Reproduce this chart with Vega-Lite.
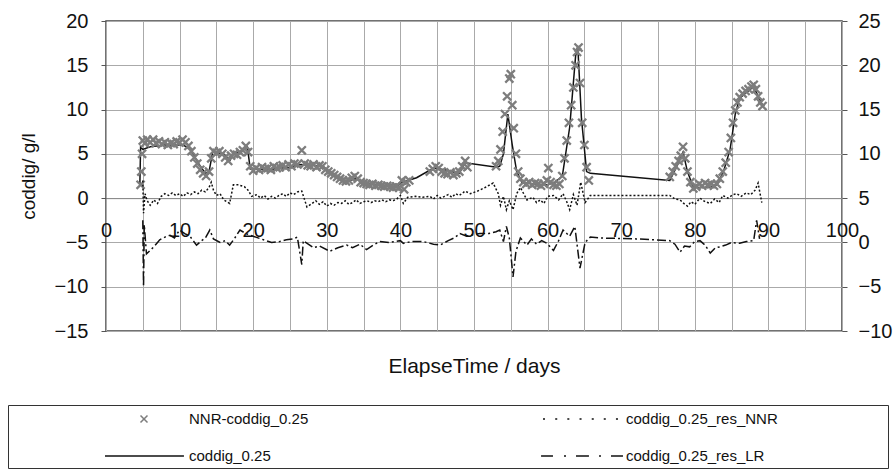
{
  "$schema": "https://vega.github.io/schema/vega-lite/v6.json",
  "width": 736,
  "height": 310,
  "autosize": {"type": "none"},
  "padding": {"left": 106, "top": 21, "right": 51, "bottom": 142},
  "background": "white",
  "config": {
    "font": "Liberation Sans",
    "view": {"stroke": "#444", "strokeWidth": 1.5},
    "axis": {"labelFont": "Liberation Sans", "labelFontSize": 20, "labelColor": "#111", "titleFont": "Liberation Sans", "titleFontWeight": "normal", "titleColor": "#111", "gridColor": "#aaa", "gridWidth": 1, "tickColor": "#555"}
  },
  "data": {"values": [
    {"s":"NNR","d":4.7,"v":1.5},{"s":"NNR","d":4.8,"v":3.0},{"s":"NNR","d":4.9,"v":5.0},{"s":"NNR","d":5.0,"v":6.5},{"s":"NNR","d":5.3,"v":6.2},{"s":"NNR","d":5.6,"v":6.6},{"s":"NNR","d":6.0,"v":6.3},{"s":"NNR","d":6.4,"v":6.6},{"s":"NNR","d":6.8,"v":6.2},{"s":"NNR","d":7.2,"v":6.4},{"s":"NNR","d":7.6,"v":6.1},{"s":"NNR","d":8.0,"v":6.3},{"s":"NNR","d":8.4,"v":6.0},{"s":"NNR","d":8.8,"v":6.2},{"s":"NNR","d":9.2,"v":6.1},{"s":"NNR","d":9.6,"v":6.4},{"s":"NNR","d":10.0,"v":6.3},{"s":"NNR","d":10.4,"v":6.6},{"s":"NNR","d":10.8,"v":6.3},{"s":"NNR","d":11.2,"v":5.9},{"s":"NNR","d":11.6,"v":5.3},{"s":"NNR","d":12.0,"v":4.6},{"s":"NNR","d":12.4,"v":3.9},{"s":"NNR","d":12.8,"v":3.2},{"s":"NNR","d":13.2,"v":2.8},{"s":"NNR","d":13.6,"v":2.5},{"s":"NNR","d":14.0,"v":3.0},{"s":"NNR","d":14.3,"v":4.5},{"s":"NNR","d":14.6,"v":5.3},{"s":"NNR","d":15.0,"v":5.1},{"s":"NNR","d":15.4,"v":5.3},{"s":"NNR","d":15.8,"v":5.0},{"s":"NNR","d":16.2,"v":4.6},{"s":"NNR","d":16.6,"v":4.2},{"s":"NNR","d":17.0,"v":4.8},{"s":"NNR","d":17.4,"v":5.0},{"s":"NNR","d":17.8,"v":4.9},{"s":"NNR","d":18.2,"v":5.2},{"s":"NNR","d":18.6,"v":5.4},{"s":"NNR","d":19.0,"v":5.9},{"s":"NNR","d":19.3,"v":5.2},{"s":"NNR","d":19.6,"v":3.6},{"s":"NNR","d":20.0,"v":3.1},{"s":"NNR","d":20.4,"v":3.4},{"s":"NNR","d":20.8,"v":3.2},{"s":"NNR","d":21.2,"v":3.5},{"s":"NNR","d":21.6,"v":3.3},{"s":"NNR","d":22.0,"v":3.4},{"s":"NNR","d":22.4,"v":3.2},{"s":"NNR","d":22.8,"v":3.6},{"s":"NNR","d":23.2,"v":3.4},{"s":"NNR","d":23.6,"v":3.5},{"s":"NNR","d":24.0,"v":3.7},{"s":"NNR","d":24.4,"v":3.5},{"s":"NNR","d":24.8,"v":3.8},{"s":"NNR","d":25.2,"v":3.6},{"s":"NNR","d":25.6,"v":3.9},{"s":"NNR","d":26.0,"v":3.8},{"s":"NNR","d":26.6,"v":5.4},{"s":"NNR","d":27.0,"v":3.9},{"s":"NNR","d":27.4,"v":3.7},{"s":"NNR","d":27.8,"v":3.6},{"s":"NNR","d":28.2,"v":3.8},{"s":"NNR","d":28.6,"v":3.5},{"s":"NNR","d":29.0,"v":3.7},{"s":"NNR","d":29.4,"v":3.6},{"s":"NNR","d":29.8,"v":3.2},{"s":"NNR","d":30.2,"v":3.0},{"s":"NNR","d":30.6,"v":2.8},{"s":"NNR","d":31.0,"v":2.6},{"s":"NNR","d":31.4,"v":2.4},{"s":"NNR","d":31.8,"v":2.2},{"s":"NNR","d":32.2,"v":2.0},{"s":"NNR","d":32.6,"v":1.9},{"s":"NNR","d":33.0,"v":2.0},{"s":"NNR","d":33.4,"v":2.3},{"s":"NNR","d":33.8,"v":2.5},{"s":"NNR","d":34.2,"v":2.2},{"s":"NNR","d":34.6,"v":1.8},{"s":"NNR","d":35.0,"v":1.7},{"s":"NNR","d":35.4,"v":1.6},{"s":"NNR","d":35.8,"v":1.5},{"s":"NNR","d":36.2,"v":1.6},{"s":"NNR","d":36.6,"v":1.4},{"s":"NNR","d":37.0,"v":1.5},{"s":"NNR","d":37.4,"v":1.4},{"s":"NNR","d":37.8,"v":1.3},{"s":"NNR","d":38.2,"v":1.4},{"s":"NNR","d":38.6,"v":1.3},{"s":"NNR","d":39.0,"v":1.2},{"s":"NNR","d":39.4,"v":1.3},{"s":"NNR","d":39.8,"v":1.2},{"s":"NNR","d":40.2,"v":2.0},{"s":"NNR","d":40.5,"v":1.0},{"s":"NNR","d":40.8,"v":1.8},{"s":"NNR","d":41.2,"v":2.0},
    {"s":"NNR","d":44.0,"v":3.0},{"s":"NNR","d":44.4,"v":3.3},{"s":"NNR","d":44.8,"v":3.6},{"s":"NNR","d":45.2,"v":3.4},{"s":"NNR","d":45.6,"v":3.0},{"s":"NNR","d":46.0,"v":2.8},{"s":"NNR","d":46.4,"v":2.7},{"s":"NNR","d":46.8,"v":2.9},{"s":"NNR","d":47.2,"v":2.6},{"s":"NNR","d":47.6,"v":2.8},{"s":"NNR","d":48.0,"v":3.0},{"s":"NNR","d":48.4,"v":3.6},{"s":"NNR","d":48.8,"v":4.2},{"s":"NNR","d":49.1,"v":3.5},
    {"s":"NNR","d":53.0,"v":3.6},{"s":"NNR","d":53.3,"v":4.2},{"s":"NNR","d":53.6,"v":5.5},{"s":"NNR","d":53.9,"v":7.5},{"s":"NNR","d":54.2,"v":9.5},{"s":"NNR","d":54.5,"v":11.5},{"s":"NNR","d":54.8,"v":13.5},{"s":"NNR","d":55.0,"v":14.0},{"s":"NNR","d":55.2,"v":10.5},{"s":"NNR","d":55.4,"v":7.9},{"s":"NNR","d":55.7,"v":5.0},{"s":"NNR","d":56.0,"v":3.0},{"s":"NNR","d":56.3,"v":2.2},{"s":"NNR","d":56.7,"v":1.8},{"s":"NNR","d":57.1,"v":1.6},{"s":"NNR","d":57.5,"v":1.8},{"s":"NNR","d":57.9,"v":1.5},{"s":"NNR","d":58.3,"v":1.7},{"s":"NNR","d":58.7,"v":1.6},{"s":"NNR","d":59.1,"v":1.4},{"s":"NNR","d":59.5,"v":1.6},{"s":"NNR","d":59.9,"v":2.0},{"s":"NNR","d":60.1,"v":3.4},{"s":"NNR","d":60.4,"v":1.8},{"s":"NNR","d":60.8,"v":1.5},{"s":"NNR","d":61.2,"v":1.4},{"s":"NNR","d":61.6,"v":1.6},{"s":"NNR","d":62.0,"v":2.5},{"s":"NNR","d":62.3,"v":4.5},{"s":"NNR","d":62.6,"v":6.5},{"s":"NNR","d":62.9,"v":8.5},{"s":"NNR","d":63.2,"v":10.5},{"s":"NNR","d":63.5,"v":12.5},{"s":"NNR","d":63.8,"v":15.0},{"s":"NNR","d":64.0,"v":16.5},{"s":"NNR","d":64.2,"v":17.0},{"s":"NNR","d":64.4,"v":13.0},{"s":"NNR","d":64.7,"v":8.5},{"s":"NNR","d":65.0,"v":6.0},{"s":"NNR","d":65.3,"v":3.5},{"s":"NNR","d":65.6,"v":2.0},
    {"s":"NNR","d":76.6,"v":2.4},{"s":"NNR","d":77.0,"v":3.0},{"s":"NNR","d":77.4,"v":3.6},{"s":"NNR","d":77.8,"v":4.2},{"s":"NNR","d":78.1,"v":4.8},{"s":"NNR","d":78.4,"v":5.8},{"s":"NNR","d":78.7,"v":4.5},{"s":"NNR","d":79.0,"v":3.0},{"s":"NNR","d":79.4,"v":1.8},{"s":"NNR","d":79.8,"v":1.1},{"s":"NNR","d":80.2,"v":1.3},{"s":"NNR","d":80.6,"v":1.6},{"s":"NNR","d":81.0,"v":1.4},{"s":"NNR","d":81.4,"v":1.7},{"s":"NNR","d":81.8,"v":1.5},{"s":"NNR","d":82.2,"v":1.6},{"s":"NNR","d":82.6,"v":1.4},{"s":"NNR","d":83.0,"v":1.6},{"s":"NNR","d":83.4,"v":2.2},{"s":"NNR","d":83.8,"v":3.0},{"s":"NNR","d":84.2,"v":4.0},{"s":"NNR","d":84.6,"v":5.2},{"s":"NNR","d":84.9,"v":6.8},{"s":"NNR","d":85.2,"v":8.5},{"s":"NNR","d":85.5,"v":9.9},{"s":"NNR","d":85.8,"v":10.8},{"s":"NNR","d":86.1,"v":11.4},{"s":"NNR","d":86.5,"v":11.8},{"s":"NNR","d":86.9,"v":12.1},{"s":"NNR","d":87.3,"v":12.3},{"s":"NNR","d":87.7,"v":12.6},{"s":"NNR","d":88.0,"v":12.8},{"s":"NNR","d":88.3,"v":12.3},{"s":"NNR","d":88.6,"v":11.5},{"s":"NNR","d":88.9,"v":10.8},{"s":"NNR","d":89.2,"v":10.4},
    {"s":"COD","d":4.6,"v":1.5},{"s":"COD","d":4.7,"v":5.8},{"s":"COD","d":5.0,"v":5.5},{"s":"COD","d":6.0,"v":5.8},{"s":"COD","d":8.0,"v":6.0},{"s":"COD","d":10.5,"v":6.0},{"s":"COD","d":11.5,"v":5.5},{"s":"COD","d":12.5,"v":4.0},{"s":"COD","d":13.5,"v":2.8},{"s":"COD","d":14.0,"v":3.0},{"s":"COD","d":14.5,"v":5.2},{"s":"COD","d":16.0,"v":5.0},{"s":"COD","d":16.8,"v":4.2},{"s":"COD","d":17.3,"v":5.0},{"s":"COD","d":18.5,"v":5.3},{"s":"COD","d":19.2,"v":5.8},{"s":"COD","d":19.6,"v":3.3},{"s":"COD","d":22.0,"v":3.2},{"s":"COD","d":25.0,"v":3.5},{"s":"COD","d":26.5,"v":3.8},{"s":"COD","d":29.5,"v":3.6},{"s":"COD","d":30.5,"v":2.8},{"s":"COD","d":32.7,"v":1.9},{"s":"COD","d":34.0,"v":2.2},{"s":"COD","d":35.0,"v":1.7},{"s":"COD","d":37.0,"v":1.5},{"s":"COD","d":39.5,"v":1.3},{"s":"COD","d":40.2,"v":1.8},{"s":"COD","d":41.0,"v":2.0},{"s":"COD","d":42.2,"v":2.3},{"s":"COD","d":44.5,"v":3.4},{"s":"COD","d":46.0,"v":3.2},{"s":"COD","d":48.0,"v":2.8},{"s":"COD","d":48.8,"v":4.0},{"s":"COD","d":53.1,"v":3.5},{"s":"COD","d":53.5,"v":3.6},{"s":"COD","d":54.0,"v":5.0},{"s":"COD","d":54.6,"v":9.5},{"s":"COD","d":55.2,"v":6.0},{"s":"COD","d":55.8,"v":3.0},{"s":"COD","d":56.5,"v":1.8},{"s":"COD","d":58.0,"v":1.6},{"s":"COD","d":60.0,"v":1.5},{"s":"COD","d":61.0,"v":1.8},{"s":"COD","d":62.0,"v":2.5},{"s":"COD","d":63.0,"v":8.0},{"s":"COD","d":63.8,"v":16.0},{"s":"COD","d":64.1,"v":17.2},{"s":"COD","d":64.6,"v":9.0},{"s":"COD","d":65.3,"v":3.0},{"s":"COD","d":65.8,"v":2.8},{"s":"COD","d":76.6,"v":2.0},{"s":"COD","d":77.5,"v":3.5},{"s":"COD","d":78.4,"v":5.2},{"s":"COD","d":79.0,"v":3.0},{"s":"COD","d":79.8,"v":1.2},{"s":"COD","d":82.0,"v":1.2},{"s":"COD","d":83.0,"v":1.5},{"s":"COD","d":83.9,"v":3.0},{"s":"COD","d":84.8,"v":5.5},{"s":"COD","d":85.5,"v":9.5},{"s":"COD","d":86.1,"v":11.3},{"s":"COD","d":87.1,"v":12.0},{"s":"COD","d":88.0,"v":12.6},{"s":"COD","d":88.6,"v":11.5},{"s":"COD","d":89.2,"v":10.5},
    {"s":"RNNR","d":5.0,"v":2.0},{"s":"RNNR","d":5.1,"v":-1.7},{"s":"RNNR","d":5.3,"v":0.5},{"s":"RNNR","d":5.6,"v":-0.3},{"s":"RNNR","d":6.0,"v":-0.8},{"s":"RNNR","d":6.5,"v":-0.2},{"s":"RNNR","d":7.0,"v":-0.6},{"s":"RNNR","d":7.5,"v":0.2},{"s":"RNNR","d":8.0,"v":0.5},{"s":"RNNR","d":8.5,"v":0.3},{"s":"RNNR","d":9.0,"v":0.6},{"s":"RNNR","d":9.5,"v":0.3},{"s":"RNNR","d":10.0,"v":0.5},{"s":"RNNR","d":10.5,"v":0.2},{"s":"RNNR","d":11.0,"v":0.6},{"s":"RNNR","d":11.5,"v":0.4},{"s":"RNNR","d":12.0,"v":0.7},{"s":"RNNR","d":12.5,"v":0.5},{"s":"RNNR","d":13.0,"v":0.9},{"s":"RNNR","d":13.5,"v":0.7},{"s":"RNNR","d":14.0,"v":1.2},{"s":"RNNR","d":14.3,"v":1.8},{"s":"RNNR","d":14.6,"v":0.9},{"s":"RNNR","d":15.0,"v":0.3},{"s":"RNNR","d":15.5,"v":0.5},{"s":"RNNR","d":16.0,"v":-0.2},{"s":"RNNR","d":16.8,"v":-0.6},{"s":"RNNR","d":17.3,"v":1.5},{"s":"RNNR","d":18.0,"v":1.5},{"s":"RNNR","d":18.8,"v":1.3},{"s":"RNNR","d":19.3,"v":0.9},{"s":"RNNR","d":19.8,"v":0.2},{"s":"RNNR","d":20.5,"v":0.4},{"s":"RNNR","d":21.0,"v":0.0},{"s":"RNNR","d":21.5,"v":0.3},{"s":"RNNR","d":22.0,"v":-0.1},{"s":"RNNR","d":22.5,"v":0.2},{"s":"RNNR","d":23.0,"v":0.0},{"s":"RNNR","d":23.5,"v":0.3},{"s":"RNNR","d":24.0,"v":0.5},{"s":"RNNR","d":24.5,"v":0.2},{"s":"RNNR","d":25.0,"v":0.6},{"s":"RNNR","d":25.5,"v":0.4},{"s":"RNNR","d":26.0,"v":0.7},{"s":"RNNR","d":26.6,"v":0.8},{"s":"RNNR","d":27.3,"v":-1.0},{"s":"RNNR","d":28.0,"v":-0.6},{"s":"RNNR","d":28.5,"v":-0.3},{"s":"RNNR","d":29.0,"v":-0.7},{"s":"RNNR","d":29.5,"v":-0.4},{"s":"RNNR","d":30.0,"v":-0.9},{"s":"RNNR","d":30.5,"v":-0.6},{"s":"RNNR","d":31.0,"v":-0.8},{"s":"RNNR","d":31.5,"v":-0.5},{"s":"RNNR","d":32.0,"v":-0.6},{"s":"RNNR","d":32.5,"v":-0.3},{"s":"RNNR","d":33.0,"v":-0.7},{"s":"RNNR","d":33.5,"v":-0.5},{"s":"RNNR","d":34.0,"v":-0.2},{"s":"RNNR","d":34.5,"v":-0.6},{"s":"RNNR","d":35.0,"v":-0.4},{"s":"RNNR","d":35.5,"v":-0.3},{"s":"RNNR","d":36.0,"v":-0.5},{"s":"RNNR","d":36.5,"v":-0.3},{"s":"RNNR","d":37.0,"v":-0.4},{"s":"RNNR","d":37.5,"v":-0.2},{"s":"RNNR","d":38.0,"v":-0.4},{"s":"RNNR","d":38.5,"v":-0.2},{"s":"RNNR","d":39.0,"v":-0.3},{"s":"RNNR","d":39.5,"v":-0.1},{"s":"RNNR","d":40.0,"v":0.3},{"s":"RNNR","d":40.4,"v":-0.6},{"s":"RNNR","d":41.0,"v":0.1},{"s":"RNNR","d":42.0,"v":0.2},{"s":"RNNR","d":43.0,"v":0.1},{"s":"RNNR","d":44.0,"v":0.2},{"s":"RNNR","d":44.5,"v":-0.1},{"s":"RNNR","d":45.0,"v":0.3},{"s":"RNNR","d":45.5,"v":0.0},{"s":"RNNR","d":46.0,"v":0.2},{"s":"RNNR","d":46.5,"v":0.4},{"s":"RNNR","d":47.0,"v":0.1},{"s":"RNNR","d":47.5,"v":0.5},{"s":"RNNR","d":48.0,"v":0.3},{"s":"RNNR","d":48.8,"v":0.8},{"s":"RNNR","d":49.5,"v":0.5},{"s":"RNNR","d":50.5,"v":0.8},{"s":"RNNR","d":51.5,"v":1.2},{"s":"RNNR","d":52.6,"v":1.7},{"s":"RNNR","d":53.3,"v":0.5},{"s":"RNNR","d":53.6,"v":-0.8},{"s":"RNNR","d":54.0,"v":0.2},{"s":"RNNR","d":54.4,"v":-1.3},{"s":"RNNR","d":54.8,"v":-0.3},{"s":"RNNR","d":55.3,"v":-1.3},{"s":"RNNR","d":55.8,"v":0.5},{"s":"RNNR","d":56.3,"v":1.2},{"s":"RNNR","d":57.2,"v":-0.2},{"s":"RNNR","d":58.0,"v":0.1},{"s":"RNNR","d":58.5,"v":-0.5},{"s":"RNNR","d":59.0,"v":-0.2},{"s":"RNNR","d":59.5,"v":-0.6},{"s":"RNNR","d":60.0,"v":0.2},{"s":"RNNR","d":60.8,"v":0.3},{"s":"RNNR","d":61.5,"v":-0.2},{"s":"RNNR","d":62.1,"v":0.5},{"s":"RNNR","d":62.6,"v":-0.4},{"s":"RNNR","d":63.0,"v":-1.3},{"s":"RNNR","d":63.5,"v":0.4},{"s":"RNNR","d":64.0,"v":-0.8},{"s":"RNNR","d":64.5,"v":1.8},{"s":"RNNR","d":65.1,"v":-0.5},{"s":"RNNR","d":65.8,"v":0.3},{"s":"RNNR","d":70.0,"v":0.3},{"s":"RNNR","d":76.6,"v":0.3},{"s":"RNNR","d":77.3,"v":-0.1},{"s":"RNNR","d":78.0,"v":-0.2},{"s":"RNNR","d":78.5,"v":-0.6},{"s":"RNNR","d":79.0,"v":-0.9},{"s":"RNNR","d":79.5,"v":-0.4},{"s":"RNNR","d":80.0,"v":-0.7},{"s":"RNNR","d":80.7,"v":0.0},{"s":"RNNR","d":81.4,"v":-0.4},{"s":"RNNR","d":82.1,"v":-0.6},{"s":"RNNR","d":82.7,"v":-0.1},{"s":"RNNR","d":83.3,"v":-0.5},{"s":"RNNR","d":83.8,"v":0.3},{"s":"RNNR","d":84.5,"v":0.0},{"s":"RNNR","d":85.2,"v":0.4},{"s":"RNNR","d":85.7,"v":0.5},{"s":"RNNR","d":86.3,"v":0.2},{"s":"RNNR","d":87.0,"v":0.6},{"s":"RNNR","d":87.6,"v":0.4},{"s":"RNNR","d":88.2,"v":0.9},{"s":"RNNR","d":88.6,"v":1.7},{"s":"RNNR","d":89.1,"v":-0.5},
    {"s":"RLR","d":5.0,"v":2.5},{"s":"RLR","d":5.1,"v":-5.0},{"s":"RLR","d":5.2,"v":2.0},{"s":"RLR","d":5.5,"v":-1.3},{"s":"RLR","d":6.0,"v":-0.9},{"s":"RLR","d":6.5,"v":-0.5},{"s":"RLR","d":7.0,"v":0.0},{"s":"RLR","d":7.3,"v":0.3},{"s":"RLR","d":8.0,"v":0.6},{"s":"RLR","d":8.7,"v":0.8},{"s":"RLR","d":9.3,"v":0.5},{"s":"RLR","d":10.0,"v":1.4},{"s":"RLR","d":10.7,"v":1.0},{"s":"RLR","d":11.4,"v":0.7},{"s":"RLR","d":12.3,"v":-0.3},{"s":"RLR","d":13.0,"v":0.2},{"s":"RLR","d":13.5,"v":0.5},{"s":"RLR","d":14.1,"v":1.4},{"s":"RLR","d":14.6,"v":0.4},{"s":"RLR","d":15.5,"v":0.0},{"s":"RLR","d":16.2,"v":0.2},{"s":"RLR","d":16.8,"v":-0.3},{"s":"RLR","d":17.5,"v":0.5},{"s":"RLR","d":18.2,"v":1.4},{"s":"RLR","d":19.0,"v":1.0},{"s":"RLR","d":20.0,"v":0.7},{"s":"RLR","d":21.4,"v":0.3},{"s":"RLR","d":22.5,"v":0.0},{"s":"RLR","d":23.6,"v":0.1},{"s":"RLR","d":24.5,"v":0.3},{"s":"RLR","d":25.4,"v":0.4},{"s":"RLR","d":26.0,"v":0.6},{"s":"RLR","d":26.6,"v":-2.5},{"s":"RLR","d":26.8,"v":0.2},{"s":"RLR","d":28.2,"v":-0.6},{"s":"RLR","d":29.0,"v":-0.4},{"s":"RLR","d":30.4,"v":-1.0},{"s":"RLR","d":31.5,"v":-0.6},{"s":"RLR","d":32.7,"v":-0.3},{"s":"RLR","d":33.5,"v":-0.6},{"s":"RLR","d":34.5,"v":-0.2},{"s":"RLR","d":35.4,"v":-0.8},{"s":"RLR","d":36.3,"v":-0.3},{"s":"RLR","d":37.2,"v":0.1},{"s":"RLR","d":38.5,"v":0.0},{"s":"RLR","d":40.0,"v":0.2},{"s":"RLR","d":40.4,"v":-0.1},{"s":"RLR","d":41.5,"v":0.1},{"s":"RLR","d":43.1,"v":0.1},{"s":"RLR","d":44.5,"v":-0.2},{"s":"RLR","d":45.4,"v":-0.3},{"s":"RLR","d":46.5,"v":0.2},{"s":"RLR","d":47.3,"v":0.5},{"s":"RLR","d":48.1,"v":1.0},{"s":"RLR","d":49.0,"v":0.7},{"s":"RLR","d":50.0,"v":0.9},{"s":"RLR","d":50.8,"v":1.0},{"s":"RLR","d":52.0,"v":1.0},{"s":"RLR","d":53.0,"v":1.2},{"s":"RLR","d":53.5,"v":1.4},{"s":"RLR","d":54.0,"v":0.1},{"s":"RLR","d":54.4,"v":1.8},{"s":"RLR","d":54.8,"v":0.5},{"s":"RLR","d":55.3,"v":-3.9},{"s":"RLR","d":55.7,"v":-1.0},{"s":"RLR","d":56.3,"v":0.5},{"s":"RLR","d":57.2,"v":-0.3},{"s":"RLR","d":57.8,"v":0.4},{"s":"RLR","d":58.5,"v":-0.2},{"s":"RLR","d":59.2,"v":0.2},{"s":"RLR","d":59.9,"v":-0.1},{"s":"RLR","d":60.8,"v":-0.9},{"s":"RLR","d":61.5,"v":0.2},{"s":"RLR","d":62.1,"v":1.4},{"s":"RLR","d":63.0,"v":0.7},{"s":"RLR","d":63.7,"v":1.8},{"s":"RLR","d":64.4,"v":-2.9},{"s":"RLR","d":65.1,"v":0.0},{"s":"RLR","d":65.8,"v":0.6},{"s":"RLR","d":67.1,"v":0.5},{"s":"RLR","d":72.0,"v":0.4},{"s":"RLR","d":76.6,"v":0.2},{"s":"RLR","d":77.3,"v":-0.2},{"s":"RLR","d":78.0,"v":-1.1},{"s":"RLR","d":78.6,"v":-0.4},{"s":"RLR","d":79.3,"v":-0.5},{"s":"RLR","d":80.0,"v":0.1},{"s":"RLR","d":80.7,"v":0.2},{"s":"RLR","d":81.4,"v":-0.3},{"s":"RLR","d":82.1,"v":-1.2},{"s":"RLR","d":82.8,"v":-0.6},{"s":"RLR","d":83.4,"v":-0.5},{"s":"RLR","d":84.2,"v":-0.3},{"s":"RLR","d":85.0,"v":0.0},{"s":"RLR","d":86.1,"v":-0.1},{"s":"RLR","d":87.0,"v":0.1},{"s":"RLR","d":88.0,"v":0.2},{"s":"RLR","d":88.4,"v":2.5},{"s":"RLR","d":88.8,"v":0.4}
  ]},
  "layer": [
    {
      "layer": [
        {
          "transform": [{"filter": "datum.s === 'COD'"}],
          "mark": {"type": "line", "color": "#111", "strokeWidth": 1.5},
          "encoding": {
            "x": {"field": "d", "type": "quantitative", "scale": {"domain": [0, 100], "nice": false, "zero": false},
              "axis": {"orient": "bottom", "offset": -132.86, "tickCount": 20, "labelExpr": "datum.value % 10 == 0 ? format(datum.value, 'd') : ''", "grid": true, "ticks": false, "domain": true, "domainColor": "#888", "domainWidth": 1, "labelPadding": 22, "labelAlign": "center", "labelBaseline": "top", "labelFlush": false, "labelOverlap": false, "title": "ElapseTime / days", "titleFontSize": 21, "titlePadding": 115}},
            "y": {"field": "v", "type": "quantitative", "scale": {"domain": [-15, 20], "nice": false, "zero": false},
              "axis": {"orient": "left", "values": [-15,-10,-5,0,5,10,15,20], "grid": true, "domain": false, "ticks": true, "tickSize": 5, "labelPadding": 13, "labelFlush": false, "title": "coddig/ g/l", "titleFontSize": 19, "titlePadding": 16}}
          }
        },
        {
          "transform": [{"filter": "datum.s === 'NNR'"}],
          "mark": {"type": "point", "filled": false, "size": 460, "strokeWidth": 2.3, "opacity": 1},
          "encoding": {
            "x": {"field": "d", "type": "quantitative"},
            "y": {"field": "v", "type": "quantitative", "scale": {"domain": [-15, 20], "nice": false, "zero": false}},
            "shape": {"field": "s", "type": "nominal",
              "scale": {"domain": ["NNR", "COD", "RNNR", "RLR"], "range": [
                "M-14.27,-1.08M-0.378,-0.378L0.378,0.378M-0.378,0.378L0.378,-0.378",
                "M-14.27,-1.08M-4.22,0L4.32,0",
                "M-14.27,-1.08M32.4,0M-4.11,0L-3.89,0M-2.79,0L-2.57,0M-1.48,0L-1.26,0M-0.16,0L0.06,0M1.16,0L1.38,0M2.46,0L2.68,0M3.78,0L4.0,0",
                "M-14.27,-1.08M32.4,0M-4.32,0L-3.03,0M-1.84,0L-1.62,0M-0.54,0L0.86,0M1.95,0L2.16,0M3.24,0L4.54,0"
              ]},
              "legend": {"title": null, "orient": "none", "legendX": -98, "legendY": 384, "columns": 2, "gridAlign": "each", "columnPadding": 137, "rowPadding": 16, "padding": 4, "strokeColor": "#333", "symbolSize": 342, "symbolStrokeWidth": 1.5, "symbolOffset": 122, "labelFont": "Liberation Sans", "labelFontSize": 15, "labelColor": "#111", "labelOffset": 35, "labelLimit": 300,
                "labelExpr": "datum.label === 'NNR' ? 'NNR-coddig_0.25' : datum.label === 'RNNR' ? 'coddig_0.25_res_NNR' : datum.label === 'COD' ? 'coddig_0.25' : 'coddig_0.25_res_LR'"}},
            "color": {"field": "s", "type": "nominal",
              "scale": {"domain": ["NNR", "COD", "RNNR", "RLR"], "range": ["#7d7d7d", "#111111", "#111111", "#111111"]},
              "legend": {"title": null, "orient": "none", "legendX": -98, "legendY": 384, "columns": 2, "gridAlign": "each", "columnPadding": 137, "rowPadding": 16, "padding": 4, "strokeColor": "#333", "symbolSize": 342, "symbolStrokeWidth": 1.5, "symbolOffset": 122, "labelFont": "Liberation Sans", "labelFontSize": 15, "labelColor": "#111", "labelOffset": 35, "labelLimit": 300,
                "labelExpr": "datum.label === 'NNR' ? 'NNR-coddig_0.25' : datum.label === 'RNNR' ? 'coddig_0.25_res_NNR' : datum.label === 'COD' ? 'coddig_0.25' : 'coddig_0.25_res_LR'"}}
          }
        },
        {
          "transform": [{"filter": "datum.s === 'RNNR'"}],
          "mark": {"type": "line", "color": "#111", "strokeWidth": 1.5, "strokeDash": [2, 2]},
          "encoding": {
            "x": {"field": "d", "type": "quantitative"},
            "y": {"field": "v", "type": "quantitative", "scale": {"domain": [-15, 20], "nice": false, "zero": false}}
          }
        }
      ]
    },
    {
      "transform": [{"filter": "datum.s === 'RLR'"}],
      "mark": {"type": "line", "color": "#111", "strokeWidth": 1.5, "strokeDash": [9, 3, 2, 3]},
      "encoding": {
        "x": {"field": "d", "type": "quantitative"},
        "y": {"field": "v", "type": "quantitative", "scale": {"domain": [-10, 25], "nice": false, "zero": false},
          "axis": {"orient": "right", "values": [-10,-5,0,5,10,15,20,25], "grid": false, "domain": false, "ticks": true, "tickSize": 5, "labelPadding": 11, "labelFlush": false, "title": null}}
      }
    }
  ],
  "resolve": {"scale": {"y": "independent"}}
}
